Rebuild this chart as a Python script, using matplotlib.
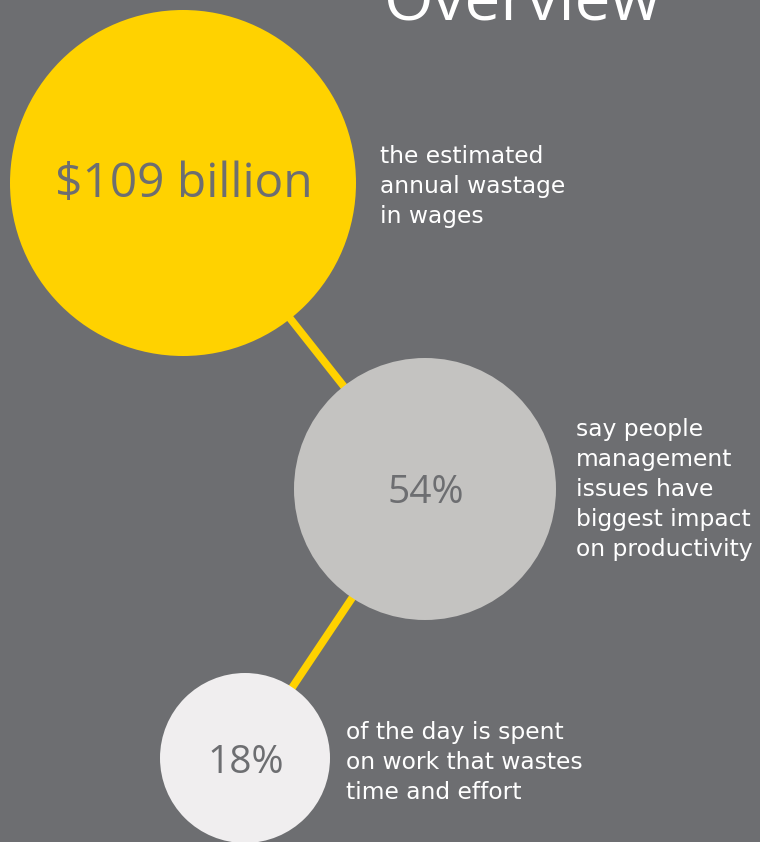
import matplotlib
matplotlib.use("Agg")
import matplotlib.pyplot as plt
from matplotlib.patches import Circle

# Figures shown in the bubbles and their descriptions
headline_values = ["$109 billion", "54%", "18%"]
descriptions = [
    "the estimated\nannual wastage\nin wages",
    "say people\nmanagement\nissues have\nbiggest impact\non productivity",
    "of the day is spent\non work that wastes\ntime and effort",
]
title = "Overview"

# Layout (pixel space, y pointing down)
centers = [(183, 183), (425, 489), (245, 758)]
radii = [173, 131, 85]
fill_colors = ["#ffd200", "#c4c3c1", "#f0eeef"]
value_sizes = [34.5, 28, 28]
value_baselines = [197, 503, 773]
desc_first_baseline = [(380, 163), (576, 436), (346, 739)]
LINE_STEP = 30

BG = "#6d6e71"
YELLOW = "#ffd200"
NUM_COLOR = "#6d6e71"
NUM_FONT = ["Open Sans", "DejaVu Sans"]
BODY_FONT = ["DejaVu Sans"]

W, H = 760, 842
fig = plt.figure(figsize=(W / 100, H / 100), dpi=100)
fig.patch.set_facecolor(BG)
ax = fig.add_axes([0, 0, 1, 1])
ax.set_xlim(0, W)
ax.set_ylim(H, 0)
ax.set_aspect("equal")
ax.axis("off")
ax.set_facecolor(BG)

# Connector lines between bubble centres
for (x0, y0), (x1, y1) in zip(centers[:-1], centers[1:]):
    ax.plot([x0, x1], [y0, y1], color=YELLOW, lw=5.5, solid_capstyle="butt", zorder=1)

# Bubbles with their headline figures
for (cx, cy), r, fc, val, fs, by in zip(centers, radii, fill_colors,
                                         headline_values, value_sizes, value_baselines):
    ax.add_patch(Circle((cx, cy), r, facecolor=fc, edgecolor="none", zorder=2))
    ax.text(cx + 1, by, val, ha="center", va="baseline", fontsize=fs,
            color=NUM_COLOR, family=NUM_FONT, zorder=3)

# Descriptions beside each bubble, one text per line
for (tx, ty), txt in zip(desc_first_baseline, descriptions):
    for i, line in enumerate(txt.split("\n")):
        ax.text(tx, ty + i * LINE_STEP, line, ha="left", va="baseline",
                fontsize=16.8, color="white", family=BODY_FONT, zorder=3)

# Title, partially above the top edge
ax.text(383, 19, title, ha="left", va="baseline", fontsize=46, color="white",
        family=NUM_FONT, zorder=3)

fig.savefig("out.png", dpi=100, facecolor=BG)
